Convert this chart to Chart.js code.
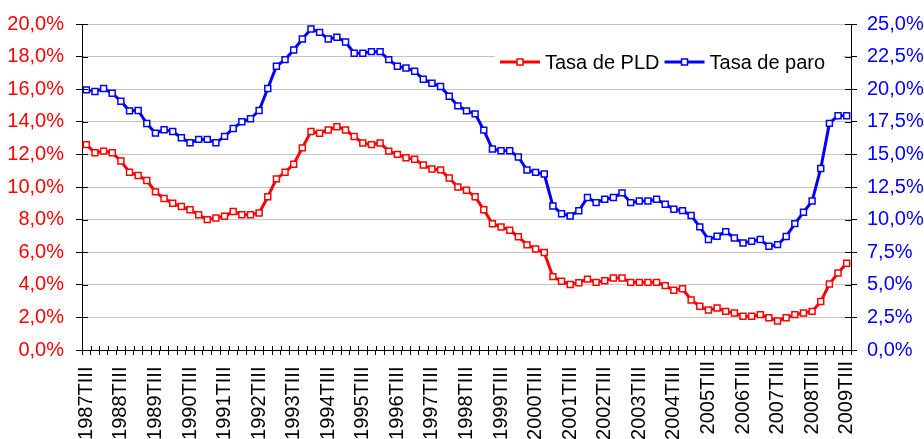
<!DOCTYPE html>
<html>
<head>
<meta charset="utf-8">
<script src="https://cdn.jsdelivr.net/npm/chart.js@4/dist/chart.umd.min.js"></script>
<style>
html,body{margin:0;padding:0;background:#fff;overflow:hidden;}
#wrap{width:924px;height:439px;position:relative;}
</style>
</head>
<body>
<div id="wrap"><canvas id="c" width="924" height="439"></canvas></div>
<script>
const quarters = [
"1987TIII","1987TIV",
"1988TI","1988TII","1988TIII","1988TIV",
"1989TI","1989TII","1989TIII","1989TIV",
"1990TI","1990TII","1990TIII","1990TIV",
"1991TI","1991TII","1991TIII","1991TIV",
"1992TI","1992TII","1992TIII","1992TIV",
"1993TI","1993TII","1993TIII","1993TIV",
"1994TI","1994TII","1994TIII","1994TIV",
"1995TI","1995TII","1995TIII","1995TIV",
"1996TI","1996TII","1996TIII","1996TIV",
"1997TI","1997TII","1997TIII","1997TIV",
"1998TI","1998TII","1998TIII","1998TIV",
"1999TI","1999TII","1999TIII","1999TIV",
"2000TI","2000TII","2000TIII","2000TIV",
"2001TI","2001TII","2001TIII","2001TIV",
"2002TI","2002TII","2002TIII","2002TIV",
"2003TI","2003TII","2003TIII","2003TIV",
"2004TI","2004TII","2004TIII","2004TIV",
"2005TI","2005TII","2005TIII","2005TIV",
"2006TI","2006TII","2006TIII","2006TIV",
"2007TI","2007TII","2007TIII","2007TIV",
"2008TI","2008TII","2008TIII","2008TIV",
"2009TI","2009TII","2009TIII"
];

const tasaPLD = [
12.6,12.1,12.2,12.1,11.6,10.9,10.7,10.4,9.7,9.3,
9.0,8.8,8.6,8.3,8.0,8.1,8.2,8.5,8.3,8.3,
8.4,9.4,10.5,10.9,11.4,12.4,13.4,13.3,13.5,13.7,
13.5,13.1,12.7,12.6,12.7,12.2,12.0,11.8,11.7,11.35,
11.1,11.05,10.55,10.0,9.8,9.4,8.6,7.75,7.55,7.35,
6.95,6.45,6.2,5.98,4.5,4.22,4.02,4.13,4.35,4.15,
4.25,4.42,4.42,4.15,4.15,4.15,4.15,3.95,3.66,3.76,
3.07,2.68,2.45,2.58,2.37,2.27,2.07,2.07,2.17,1.98,
1.78,1.98,2.17,2.27,2.37,2.97,4.05,4.72,5.32
];

const tasaParo = [
19.95,19.82,20.05,19.69,19.08,18.34,18.37,17.37,16.63,16.89,
16.76,16.28,15.89,16.15,16.15,15.89,16.38,16.99,17.5,17.73,
18.37,20.05,21.76,22.27,23.01,23.85,24.62,24.36,23.85,23.98,
23.62,22.76,22.76,22.88,22.88,22.27,21.76,21.63,21.38,20.77,
20.46,20.2,19.46,18.72,18.34,18.11,16.86,15.41,15.28,15.28,
14.8,13.8,13.62,13.49,11.05,10.45,10.28,10.68,11.69,11.3,
11.56,11.69,12.05,11.3,11.43,11.43,11.56,11.18,10.79,10.69,
10.31,9.44,8.47,8.72,9.08,8.59,8.21,8.34,8.47,7.95,
8.08,8.7,9.69,10.56,11.42,13.92,17.38,17.97,17.97
];

const seriesNames = ["Tasa de PLD", "Tasa de paro"];
const leftTicks = {min: 0, max: 20, step: 2};
const rightTicks = {min: 0, max: 25, step: 2.5};

const FONT = "'Liberation Sans', Arial, sans-serif";
const fmt = v => v.toFixed(1).replace('.', ',') + '%';

const legendPlugin = {
  id: 'insideLegend',
  afterDatasetsDraw(chart) {
    const ctx = chart.ctx;
    ctx.save();
    ctx.fillStyle = '#ffffff';
    ctx.fillRect(495, 46, 348, 33);
    ctx.font = '20px ' + FONT;
    ctx.textBaseline = 'middle';
    let x = 500;
    const y = 62;
    chart.data.datasets.forEach(ds => {
      ctx.strokeStyle = ds.borderColor;
      ctx.lineWidth = 3;
      ctx.beginPath();
      ctx.moveTo(x, y);
      ctx.lineTo(x + 40, y);
      ctx.stroke();
      ctx.fillStyle = '#ffffff';
      ctx.lineWidth = 1.5;
      ctx.fillRect(x + 17, y - 3, 6, 6);
      ctx.strokeRect(x + 17, y - 3, 6, 6);
      ctx.fillStyle = '#000000';
      ctx.textAlign = 'left';
      ctx.fillText(ds.label, x + 45, y + 1);
      x += 45 + ctx.measureText(ds.label).width + 5;
    });
    ctx.restore();
  }
};

// inner half of the "cross" tick marks on the axes
const innerTicksPlugin = {
  id: 'innerTicks',
  afterDraw(chart) {
    const ctx = chart.ctx;
    const ca = chart.chartArea;
    const xs = chart.scales.x, yL = chart.scales.yL, yR = chart.scales.yR;
    ctx.save();
    ctx.strokeStyle = '#000000';
    ctx.lineWidth = 1;
    ctx.beginPath();
    const n = xs.ticks.length;
    const w = (ca.right - ca.left) / n;
    for (let k = 0; k <= n; k++) {
      const px = Math.round(ca.left + k * w) + 0.5;
      ctx.moveTo(px, ca.bottom);
      ctx.lineTo(px, ca.bottom - 4);
    }
    yL.ticks.forEach(t => {
      const py = Math.round(yL.getPixelForValue(t.value)) + 0.5;
      ctx.moveTo(ca.left, py);
      ctx.lineTo(ca.left + 6, py);
    });
    yR.ticks.forEach(t => {
      const py = Math.round(yR.getPixelForValue(t.value)) + 0.5;
      ctx.moveTo(ca.right, py);
      ctx.lineTo(ca.right - 6, py);
    });
    ctx.stroke();
    ctx.restore();
  }
};

new Chart(document.getElementById('c'), {
  type: 'line',
  data: {
    labels: quarters,
    datasets: [
      {
        label: seriesNames[0],
        data: tasaPLD,
        yAxisID: 'yL',
        borderColor: '#ff0000',
        backgroundColor: '#ffffff',
        borderWidth: 3,
        pointStyle: 'rect',
        pointRadius: 4.2,
        pointBorderWidth: 1.5,
        pointBackgroundColor: '#ffffff',
        pointBorderColor: '#ff0000',
        tension: 0
      },
      {
        label: seriesNames[1],
        data: tasaParo,
        yAxisID: 'yR',
        borderColor: '#0000ff',
        backgroundColor: '#ffffff',
        borderWidth: 3,
        pointStyle: 'rect',
        pointRadius: 4.2,
        pointBorderWidth: 1.5,
        pointBackgroundColor: '#ffffff',
        pointBorderColor: '#0000ff',
        tension: 0
      }
    ]
  },
  options: {
    responsive: false,
    animation: false,
    devicePixelRatio: 1,
    layout: {padding: {left: 0, right: 0, top: 23, bottom: 0}},
    plugins: {
      legend: {display: false},
      tooltip: {enabled: false}
    },
    scales: {
      x: {
        offset: true,
        afterFit(s) { s.height = 89; },
        grid: {
          offset: true,
          drawOnChartArea: false,
          tickLength: 5,
          tickColor: '#000000',
          tickWidth: 1
        },
        border: {color: '#000000', width: 1},
        ticks: {
          autoSkip: false,
          maxRotation: 90,
          minRotation: 90,
          padding: 6,
          color: '#000000',
          font: {family: FONT, size: 20},
          callback(v, i) {
            if (i % 4 !== 0) return '';
            return i < 72 ? quarters[i] + ' ' : quarters[i];
          }
        }
      },
      yL: {
        position: 'left',
        min: leftTicks.min,
        max: leftTicks.max,
        afterFit(s) { s.width = 82; },
        grid: {
          color: '#c4c4c4',
          lineWidth: 1,
          tickLength: 6,
          tickColor: '#000000'
        },
        border: {color: '#000000', width: 1},
        ticks: {
          stepSize: leftTicks.step,
          padding: 12,
          color: '#ff0000',
          font: {family: FONT, size: 20},
          callback: v => fmt(v)
        }
      },
      yR: {
        position: 'right',
        min: rightTicks.min,
        max: rightTicks.max,
        afterFit(s) { s.width = 73; },
        grid: {
          drawOnChartArea: false,
          tickLength: 6,
          tickColor: '#000000'
        },
        border: {color: '#000000', width: 1},
        ticks: {
          stepSize: rightTicks.step,
          padding: 10,
          color: '#0000ff',
          font: {family: FONT, size: 20},
          callback: v => fmt(v)
        }
      }
    }
  },
  plugins: [legendPlugin, innerTicksPlugin]
});
</script>
</body>
</html>
